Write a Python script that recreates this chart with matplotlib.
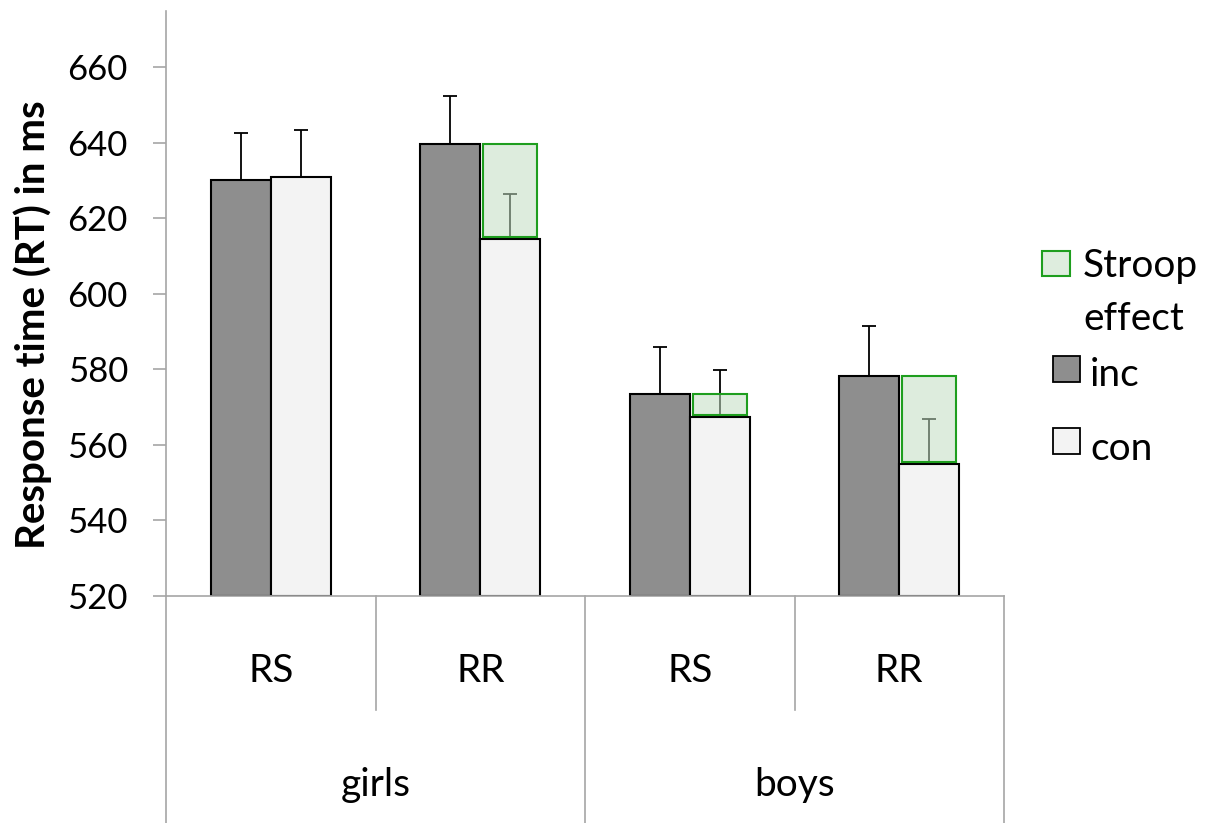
import matplotlib
matplotlib.use("Agg")
import matplotlib.pyplot as plt
from matplotlib.patches import Rectangle
from matplotlib.lines import Line2D

plt.rcParams['font.family'] = ['Lato', 'DejaVu Sans']

# ---- data ----
groups = ['girls', 'boys']
conditions = ['RS', 'RR', 'RS', 'RR']
inc = [630.2, 639.5, 573.4, 578.3]
con = [630.9, 614.4, 567.3, 554.9]
inc_err = [12.2, 12.7, 12.6, 13.1]
con_err = [12.5, 11.9, 12.5, 11.9]
yticks = [520, 540, 560, 580, 600, 620, 640, 660]
ylabel = 'Response time (RT) in ms'
legend_labels = ['Stroop\neffect', 'inc', 'con']

# ---- styling ----
W, H = 1222, 823
inc_col = '#8e8e8e'
con_col = '#f3f3f3'
axis_col = '#a6a6a6'
green_edge = '#1e9e1e'
green_face = (193/255, 222/255, 193/255, 0.55)
bw = 0.286
fs_tick = 25
fs_lab = 28
fs_ylab = 29

fig = plt.figure(figsize=(W/100, H/100), dpi=100)
ax = fig.add_axes([166/W, 1-596/H, (1004-166)/W, (596-11)/H])
ax.set_xlim(0, 4)
ax.set_ylim(520, 674.8)

n = len(conditions)
for i in range(n):
    c = i + 0.5
    ax.bar(c - bw/2, inc[i] - 520, bottom=520, width=bw, color=inc_col,
           edgecolor='black', linewidth=1.5, zorder=2)
    ax.bar(c + bw/2, con[i] - 520, bottom=520, width=bw, color=con_col,
           edgecolor='black', linewidth=1.5, zorder=2)
    ax.errorbar([c - bw/2], [inc[i]], yerr=[[0], [inc_err[i]]], fmt='none',
                ecolor='black', elinewidth=1.3, capsize=4.7, capthick=1.3, zorder=3)
    ax.errorbar([c + bw/2], [con[i]], yerr=[[0], [con_err[i]]], fmt='none',
                ecolor='black', elinewidth=1.3, capsize=4.7, capthick=1.3, zorder=3)
    if inc[i] > con[i]:
        sw = bw * 0.9
        ax.add_patch(Rectangle((c + bw/2 - sw/2, con[i] + 0.6), sw,
                               inc[i] - con[i] - 0.6, facecolor=green_face,
                               edgecolor=green_edge, linewidth=1.5, zorder=4))

# axes styling
for s in ['top', 'right']:
    ax.spines[s].set_visible(False)
for s in ['left', 'bottom']:
    ax.spines[s].set_color(axis_col)
    ax.spines[s].set_linewidth(1.2)
ax.set_xticks([])
ax.set_yticks(yticks)
ax.set_yticklabels([str(v) for v in yticks])
ax.tick_params(axis='y', direction='out', length=9.4, width=1.2,
               color=axis_col, pad=18, labelsize=fs_tick)

# category separators below axis
ybot = -(823 - 596) / 585
ymid = -(710 - 596) / 585
for x, y0 in [(0, ybot), (0.25, ymid), (0.5, ybot), (0.75, ymid), (1.0, ybot)]:
    ax.add_line(Line2D([x, x], [0, y0], transform=ax.transAxes, color=axis_col,
                       linewidth=1.2, clip_on=False))

for i, lab in enumerate(conditions):
    ax.text((i + 0.5) / n, -(671 - 596) / 585, lab, transform=ax.transAxes,
            ha='center', va='center', fontsize=fs_lab)
for j, g in enumerate(groups):
    ax.text((j + 0.5) / len(groups), -(785 - 596) / 585, g, transform=ax.transAxes,
            ha='center', va='center', fontsize=fs_lab)

fig.text(33/W, 1 - 325/H, ylabel, rotation=90, ha='center', va='center',
         fontsize=fs_ylab, fontweight='bold')

# legend (manual)
def fig_rect(x0, y0, x1, y1, **kw):
    fig.patches.append(Rectangle((x0/W, 1 - y1/H), (x1-x0)/W, (y1-y0)/H,
                                 transform=fig.transFigure, figure=fig, **kw))

fig_rect(1042, 251, 1070, 276, facecolor=(0.87, 0.93, 0.87), edgecolor=green_edge, linewidth=1.5)
for k, line in enumerate(legend_labels[0].split('\n')):
    fig.text(1083/W, 1 - (263 + 52*k)/H, line, ha='left', va='center_baseline',
             fontsize=fs_lab)
fig_rect(1053, 356, 1080, 382, facecolor=inc_col, edgecolor='black', linewidth=1.3)
fig.text(1090/W, 1 - 372/H, legend_labels[1], ha='left', va='center_baseline', fontsize=fs_lab)
fig_rect(1053, 428, 1080, 454, facecolor=con_col, edgecolor='black', linewidth=1.3)
fig.text(1090/W, 1 - 445/H, legend_labels[2], ha='left', va='center_baseline', fontsize=fs_lab)

fig.savefig('out.png', dpi=100, facecolor='white')
